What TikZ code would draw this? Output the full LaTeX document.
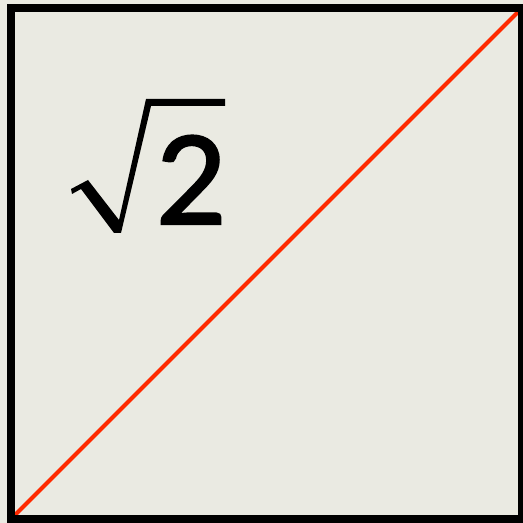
\documentclass[tikz,border=0pt]{standalone}
\usepackage{fontspec}
\newfontfamily\digitfont{Lato}[FakeBold=2]
\definecolor{paper}{HTML}{EAEAE2}
\definecolor{diagred}{HTML}{FF2A00}
\begin{document}
\begin{tikzpicture}[x=1pt,y=1pt,
  frame/.style={draw=black,line width=8pt},
  diag/.style={draw=diagred,line width=4pt},
  radical/.style={fill=black}]
\useasboundingbox (0,0) rectangle (523,523);
\fill[paper] (0,0) rectangle (523,523);
\coordinate (bl) at (15,8);
\coordinate (tr) at (518,511);
\draw[diag] (bl) -- (tr);
\draw[frame] (11,4) rectangle (522,515);
% radical sign
\fill[radical] (72,329) -- (71,334) -- (88,343) -- (119,303) -- (146,424)
  -- (225,424) -- (225,417) -- (151,417) -- (121,290) -- (114,290)
  -- (81,334) -- cycle;
\node[anchor=base west,inner sep=0pt,font=\digitfont\fontsize{122}{122}\selectfont] (two) at (156,299) {2};
\end{tikzpicture}
\end{document}
